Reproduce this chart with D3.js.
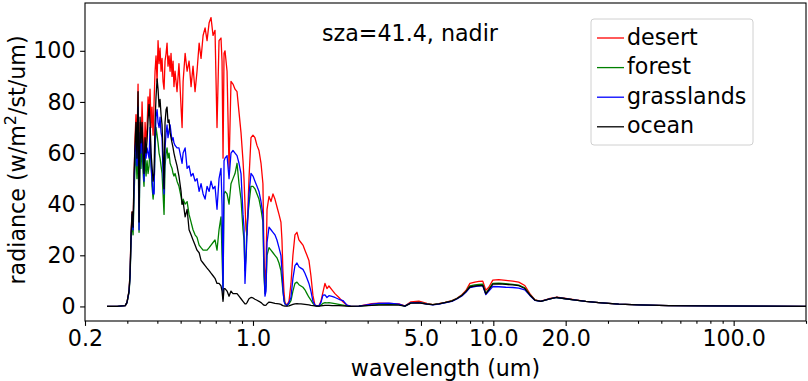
<!DOCTYPE html>
<html>
<head>
<meta charset="utf-8">
<script src="https://cdnjs.cloudflare.com/ajax/libs/d3/7.8.5/d3.min.js"></script>
<style>
  body { margin: 0; background: #fff; }
  svg { display: block; font-family: "DejaVu Sans", sans-serif; }
</style>
</head>
<body>
<script>
// wavelength grid (um)
const wavelength = [
  0.247, 0.272, 0.294, 0.299, 0.305, 0.308, 0.311, 0.314, 0.317, 0.320,
  0.323, 0.326, 0.329, 0.3325, 0.3357, 0.339, 0.342, 0.3455, 0.349, 0.352,
  0.3556, 0.359, 0.3625, 0.366, 0.3695, 0.373, 0.3766, 0.380, 0.384, 0.3876,
  0.3913, 0.395, 0.399, 0.4027, 0.4066, 0.4105, 0.4144, 0.4184, 0.4225, 0.4265,
  0.4306, 0.435, 0.439, 0.443, 0.4475, 0.452, 0.456, 0.4605, 0.465, 0.469,
  0.474, 0.483, 0.492, 0.502, 0.507, 0.512, 0.522, 0.532, 0.542, 0.5525,
  0.563, 0.574, 0.585, 0.597, 0.608, 0.620, 0.632, 0.644, 0.657, 0.669,
  0.682, 0.695, 0.7085, 0.7223, 0.736, 0.7434, 0.7506, 0.7578, 0.765, 0.780,
  0.795, 0.810, 0.8256, 0.8419, 0.8582, 0.8746, 0.8916, 0.9088, 0.9175, 0.9262,
  0.9352, 0.9443, 0.9625, 0.981, 1.0, 1.019, 1.039, 1.059, 1.080, 1.100,
  1.111, 1.122, 1.133, 1.144, 1.166, 1.188, 1.211, 1.234, 1.258, 1.283,
  1.307, 1.320, 1.332, 1.345, 1.358, 1.385, 1.412, 1.439, 1.466, 1.495,
  1.524, 1.553, 1.583, 1.614, 1.645, 1.677, 1.709, 1.742, 1.776, 1.810,
  1.845, 1.881, 1.917, 1.955, 1.993, 2.031, 2.070, 2.131, 2.193, 2.278,
  2.367, 2.460, 2.556, 2.759, 3.124, 3.342, 3.678, 4.046, 4.286, 4.539,
  4.90, 5.29, 5.603, 5.934, 6.284, 6.722, 7.05, 7.40, 7.69, 7.99,
  8.38, 8.71, 9.04, 9.307, 9.58, 9.95, 10.54, 11.27, 12.05, 12.76,
  13.52, 14.19, 14.88, 15.76, 17.02, 18.37, 20.02, 22.03, 24.25, 27.46,
  33.26, 40.27, 53.67, 78.7, 127, 200
];

const desert = [
  0, 0, 0.3, 1.5, 6, 13, 29, 37, 32, 50,
  66, 75, 62, 87, 40, 72, 60, 80, 66, 55,
  72, 64, 70, 82, 76, 85, 70, 78, 67, 80,
  92, 98, 88, 104, 95, 101, 92, 97, 88, 85,
  96, 99, 103, 94, 98, 92, 99, 90, 96, 86,
  92, 84, 95, 78, 70, 88, 99, 92, 96, 86,
  94, 84, 92, 103, 97, 106, 109, 104, 111, 113,
  106, 108, 70, 104, 105, 96, 58, 99, 100, 92,
  54, 88, 87, 85, 84, 76, 68, 57, 50, 40,
  30, 28, 50, 66, 67, 66, 63, 61, 56, 48,
  20, 9, 15, 38, 43, 41, 44, 42, 39, 36,
  33, 26, 14, 6, 1.5, 0.5, 2, 9, 20, 28,
  29, 26, 25, 24, 22, 20, 18, 12, 4.3, 0.5,
  0.2, 0.2, 2, 5.6, 9, 7, 8, 6.5, 5, 3.5,
  1.8, 0.5, 0, 0.1, 1.1, 1.3, 1.2, 1.0, 0.2, 1.8,
  2.1, 1.2, 0.7, 1.1, 1.6, 2.3, 3.2, 4.6, 6.2, 9.0,
  9.5, 9.8, 9.9, 6.3, 7.5, 10.3, 10.5, 10.2, 9.9, 9.5,
  8.2, 5.0, 2.6, 2.1, 3.0, 3.6, 3.1, 2.6, 2.0, 1.5,
  0.9, 0.6, 0.35, 0.2, 0.12, 0.06
];

const forest = [
  0, 0, 0.3, 1.4, 5.5, 11, 26, 34, 28, 43,
  55, 60, 50, 65, 29, 60, 54, 63, 52, 47,
  60, 51, 57, 52, 55, 62, 57, 47, 42, 46,
  62, 70, 67, 64, 60, 58, 55, 52, 44, 36,
  55, 60, 62, 58, 60, 56, 55, 54, 52, 51,
  52, 49, 47, 43, 40, 42, 40, 41, 36, 33,
  30, 28, 27, 24, 23, 22, 22, 22, 23, 24,
  25, 26, 22, 30, 35, 20, 6, 44, 45, 44,
  40, 48, 50, 52, 56, 48, 42, 30, 26, 14,
  20, 32, 40, 47, 47, 46, 44, 42, 38, 33,
  12, 5, 8, 20, 23, 22, 21, 20, 19, 17,
  14, 10, 6, 3, 1, 0.3, 1, 2.3, 6, 9,
  9.5, 8.5, 8, 7.5, 6.5, 5, 3.6, 2.5, 1.2, 0.3,
  0.1, 0.1, 0.5, 1.2, 1.5, 1.4, 1.5, 1.3, 1.1, 0.8,
  0.5, 0.2, 0, 0.1, 0.5, 0.8, 0.9, 0.7, 0.1, 1.4,
  1.6, 1.0, 0.7, 1.0, 1.5, 2.2, 3.1, 4.4, 5.9, 8.0,
  8.4, 8.6, 8.7, 5.1, 6.8, 9.0, 9.1, 8.9, 8.6, 8.3,
  7.3, 4.6, 2.5, 2.0, 2.9, 3.5, 3.0, 2.5, 2.0, 1.5,
  0.9, 0.6, 0.35, 0.2, 0.12, 0.06
];

const grasslands = [
  0, 0, 0.3, 1.5, 5.8, 12, 27, 36, 30, 47,
  60, 66, 55, 78, 30, 68, 60, 70, 56, 49,
  62, 58, 62, 60, 58, 70, 55, 50, 44, 44,
  65, 74, 77, 72, 70, 74, 68, 66, 52, 44,
  62, 68, 71, 66, 69, 71, 68, 65, 66, 64,
  63, 62, 62, 58, 56, 60, 62, 54, 55, 51,
  52, 49, 50, 45, 48, 44, 42, 47, 45, 49,
  46, 47, 38, 50, 54, 40, 3, 57, 58, 59,
  50, 60, 61, 60, 59, 56, 52, 36, 31, 9,
  18, 28, 44, 52, 51, 49, 47, 45, 41, 36,
  16, 4, 6, 25, 31, 30, 29, 28, 26, 23,
  20, 14, 7, 2, 1, 0.3, 1.5, 3.5, 11, 16,
  17, 15.5, 15, 14.5, 13, 11, 9, 6, 2, 0.5,
  0.2, 0.2, 1.5, 4.4, 4.5, 3.5, 4.2, 3.9, 3.5, 2.8,
  2.3, 0.5, 0, 0.1, 0.9, 1.2, 1.3, 0.9, 0.1, 1.4,
  1.5, 0.9, 0.6, 0.9, 1.4, 2.0, 2.9, 4.1, 5.5, 7.4,
  7.8, 8.0, 8.1, 4.6, 6.0, 7.8, 7.7, 7.5, 7.4, 7.2,
  6.5, 4.3, 2.4, 2.0, 2.9, 3.5, 3.0, 2.5, 2.0, 1.5,
  0.9, 0.6, 0.35, 0.2, 0.12, 0.06
];

const ocean = [
  0, 0, 0.3, 1.6, 6.2, 13, 28, 37, 31, 52,
  63, 72, 58, 84, 33, 74, 64, 72, 60, 52,
  66, 60, 65, 73, 79, 72, 60, 55, 49, 52,
  72, 82, 89, 85, 78, 81, 75, 71, 60, 46,
  72, 77, 78, 72, 73, 68, 66, 64, 62, 60,
  58, 55, 51, 45, 40, 41, 35, 38, 30, 28,
  26, 24, 22, 21, 18, 17, 16, 15, 14, 13,
  12, 11, 9, 9, 8, 6, 2, 7, 7, 6,
  4, 6, 5, 5, 5, 4, 3, 2, 1.5, 1,
  1, 1.5, 3, 3.5, 3.3, 2.8, 2.4, 2, 1.5, 0.8,
  0.5, 0.4, 0.5, 1, 1.7, 1.6, 1.4, 1.2, 1.1, 1,
  0.8, 0.5, 0.3, 0.2, 0.1, 0.1, 0.2, 0.5, 0.8, 1,
  1.1, 1, 1, 0.9, 0.8, 0.7, 0.6, 0.4, 0.3, 0.2,
  0.1, 0.1, 0.2, 0.3, 0.4, 0.4, 0.4, 0.3, 0.3, 0.3,
  0.2, 0.1, 0, 0.1, 0.4, 0.5, 0.6, 0.5, 0.1, 1.3,
  1.4, 0.9, 0.7, 1.0, 1.5, 2.1, 3.0, 4.3, 5.8, 7.6,
  8.0, 8.1, 8.2, 4.9, 6.5, 8.7, 8.8, 8.6, 8.4, 8.1,
  7.0, 4.5, 2.5, 2.0, 2.9, 3.5, 3.0, 2.5, 2.0, 1.5,
  0.9, 0.6, 0.35, 0.2, 0.12, 0.06
];

const seriesNames = ['desert', 'forest', 'grasslands', 'ocean'];
const seriesValues = [desert, forest, grasslands, ocean];
const seriesColors = ['#ff0000', '#008000', '#0000ff', '#000000'];
const xTickValues = [0.2, 1.0, 5.0, 10.0, 20.0, 100.0];
const yTickValues = [0, 20, 40, 60, 80, 100];

const width = 808;
const height = 381;
const margin = { top: 3, right: 2, bottom: 60, left: 85 };
const fontSize = 22.2;

const svg = d3.select('body')
  .append('svg')
  .attr('width', width)
  .attr('height', height);

const x = d3.scaleLog()
  .domain([0.2, 200])
  .range([margin.left, width - margin.right]);

const y = d3.scaleLinear()
  .domain([-5.7, 118.7])
  .range([height - margin.bottom, margin.top]);

svg.append('defs').append('clipPath')
  .attr('id', 'plot-clip')
  .append('rect')
  .attr('x', margin.left)
  .attr('y', margin.top)
  .attr('width', width - margin.left - margin.right)
  .attr('height', height - margin.top - margin.bottom);

// spectra
const line = d3.line()
  .x(d => x(d[0]))
  .y(d => y(d[1]));

svg.append('g')
  .attr('clip-path', 'url(#plot-clip)')
  .selectAll('path')
  .data(seriesValues)
  .enter()
  .append('path')
  .attr('d', vals => line(wavelength.map((w, i) => [w, vals[i]])))
  .attr('fill', 'none')
  .attr('stroke', (d, i) => seriesColors[i])
  .attr('stroke-width', 1.3)
  .attr('stroke-linejoin', 'round');

// x axis: labelled majors plus minor log ticks
const minorTicks = x.ticks().filter(t => !xTickValues.some(m => Math.abs(m - t) < 1e-9));

svg.append('g')
  .attr('transform', `translate(0,${height - margin.bottom})`)
  .call(d3.axisBottom(x).tickValues(minorTicks).tickSize(2.8).tickFormat(''))
  .call(g => g.select('.domain').remove());

const xAxis = svg.append('g')
  .attr('transform', `translate(0,${height - margin.bottom})`)
  .call(d3.axisBottom(x)
    .tickValues(xTickValues)
    .tickFormat(d3.format('.1f'))
    .tickSize(4.9)
    .tickPadding(4)
    .tickSizeOuter(0));
xAxis.select('.domain').remove();
xAxis.selectAll('text')
  .attr('font-size', fontSize)
  .attr('font-family', '"DejaVu Sans", sans-serif')
  .attr('fill', '#000');

const yAxis = svg.append('g')
  .attr('transform', `translate(${margin.left},0)`)
  .call(d3.axisLeft(y)
    .tickValues(yTickValues)
    .tickSize(4.9)
    .tickPadding(4.5)
    .tickSizeOuter(0));
yAxis.select('.domain').remove();
yAxis.selectAll('text')
  .attr('font-size', fontSize)
  .attr('font-family', '"DejaVu Sans", sans-serif')
  .attr('fill', '#000');

svg.selectAll('.tick line').attr('stroke', '#000').attr('stroke-width', 1.1);

// frame
svg.append('rect')
  .attr('x', margin.left)
  .attr('y', margin.top)
  .attr('width', width - margin.left - margin.right)
  .attr('height', height - margin.top - margin.bottom)
  .attr('fill', 'none')
  .attr('stroke', '#000')
  .attr('stroke-width', 1.1);

// axis labels
svg.append('text')
  .attr('x', (margin.left + width - margin.right) / 2)
  .attr('y', 368)
  .attr('dy', '0.35em')
  .attr('text-anchor', 'middle')
  .attr('font-size', fontSize)
  .text('wavelength (um)');

const ylab = svg.append('text')
  .attr('transform', `translate(17,${(margin.top + height - margin.bottom) / 2 - 2}) rotate(-90)`)
  .attr('dy', '0.35em')
  .attr('text-anchor', 'middle')
  .attr('font-size', fontSize);
ylab.append('tspan').text('radiance (w/m');
ylab.append('tspan').attr('baseline-shift', 'super').attr('font-size', fontSize * 0.72).text('2');
ylab.append('tspan').text('/st/um)');

// annotation
svg.append('text')
  .attr('x', 410)
  .attr('y', 33)
  .attr('dy', '0.35em')
  .attr('text-anchor', 'middle')
  .attr('font-size', fontSize)
  .text('sza=41.4, nadir');

// legend
const legend = svg.append('g').attr('transform', 'translate(591,19)');
legend.append('rect')
  .attr('width', 162)
  .attr('height', 126)
  .attr('rx', 3)
  .attr('fill', '#fff')
  .attr('fill-opacity', 0.8)
  .attr('stroke', '#d0d0d0')
  .attr('stroke-width', 1);

const entries = legend.selectAll('g.entry')
  .data(seriesNames)
  .enter()
  .append('g')
  .attr('class', 'entry')
  .attr('transform', (d, i) => `translate(0,${19 + i * 29.6})`);

entries.append('line')
  .attr('x1', 6)
  .attr('x2', 33)
  .attr('stroke', (d, i) => seriesColors[i])
  .attr('stroke-width', 1.3);

entries.append('text')
  .attr('x', 36)
  .attr('dy', '0.3em')
  .attr('font-size', fontSize)
  .text(d => d);
</script>
</body>
</html>
